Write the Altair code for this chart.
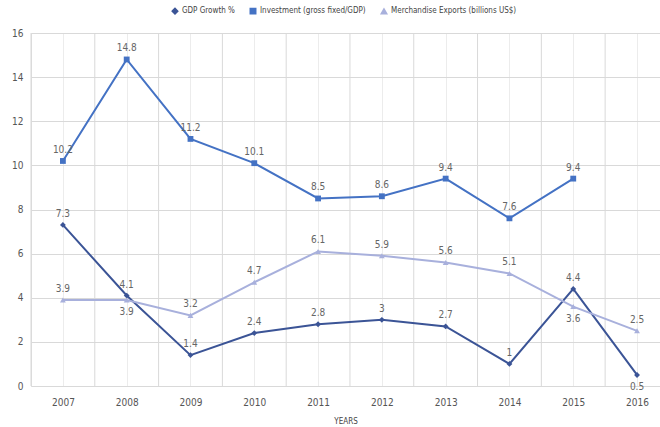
import altair as alt
import pandas as pd

years = [2007, 2008, 2009, 2010, 2011, 2012, 2013, 2014, 2015, 2016]
gdp = [7.3, 4.1, 1.4, 2.4, 2.8, 3, 2.7, 1, 4.4, 0.5]
investment = [10.2, 14.8, 11.2, 10.1, 8.5, 8.6, 9.4, 7.6, 9.4, None]
exports = [3.9, 3.9, 3.2, 4.7, 6.1, 5.9, 5.6, 5.1, 3.6, 2.5]
# label placement: 1 above, -1 below
gdp_pos = [1, 1, 1, 1, 1, 1, 1, 1, 1, -1]
inv_pos = [1] * 10
exp_pos = [1, -1, 1, 1, 1, 1, 1, 1, -1, 1]

series_names = ["GDP Growth %", "Investment (gross fixed/GDP)", "Merchandise Exports (billions US$)"]
colors = ["#3b5496", "#4472c4", "#a8b0dc"]
shapes = ["diamond", "square", "triangle-up"]

rows = []
for name, vals, pos in zip(series_names, [gdp, investment, exports], [gdp_pos, inv_pos, exp_pos]):
    for y, v, p in zip(years, vals, pos):
        if v is not None:
            rows.append({"year": y, "value": v, "series": name, "pos": p,
                         "label": f"{v:g}"})
df = pd.DataFrame(rows)

bounds = pd.DataFrame({"b": [y - 0.5 for y in years] + [years[-1] + 0.5]})

FONT = "Liberation Sans Narrow, DejaVu Sans Condensed, Roboto Condensed, sans-serif"

xscale = alt.Scale(domain=[2006.5, 2016.36], nice=False, zero=False)
yscale = alt.Scale(domain=[0, 16], nice=False)

color = alt.Color("series:N", scale=alt.Scale(domain=series_names, range=colors),
                  sort=series_names,
                  legend=alt.Legend(title=None, orient="none", direction="horizontal",
                                    legendX=140, legendY=-26, labelFontSize=8,
                                    labelFont=FONT, labelColor="#444", symbolSize=30,
                                    columnPadding=12, labelOffset=3, symbolStrokeWidth=1.5))
shape = alt.Shape("series:N", scale=alt.Scale(domain=series_names, range=shapes),
                  sort=series_names, legend=None)

grid_b = alt.Chart(bounds).mark_rule(color="#d9d9d9", strokeWidth=1).encode(
    x=alt.X("b:Q", scale=xscale)
)

base = alt.Chart(df).encode(
    x=alt.X("year:Q", scale=xscale,
            axis=alt.Axis(values=years, format="d", title="YEARS", titleFontSize=8,
                          titleFont=FONT, titleFontWeight="normal", titleColor="#444",
                          labelFont=FONT, labelFontSize=10, labelColor="#555",
                          domain=False, ticks=False, grid=True, gridColor="#ececec",
                          labelPadding=11, titlePadding=10)),
    y=alt.Y("value:Q", scale=yscale,
            axis=alt.Axis(values=list(range(0, 17, 2)), title=None, domain=False, ticks=False,
                          gridColor="#d9d9d9", labelFont=FONT, labelFontSize=10,
                          labelColor="#555", labelPadding=8)),
)

lines = base.mark_line(strokeWidth=2).encode(color=color, detail="series:N")
points = base.mark_point(filled=True, size=34, opacity=1).encode(color=color, shape=shape)

labels_up = base.transform_filter("datum.pos > 0").mark_text(
    dy=-11, fontSize=10, font=FONT, color="#666").encode(text="label:N")
labels_dn = base.transform_filter("datum.pos < 0").mark_text(
    dy=12, fontSize=10, font=FONT, color="#666").encode(text="label:N")

chart = alt.layer(grid_b, lines, points, labels_up, labels_dn).properties(
    width=629, height=353,
    autosize=alt.AutoSizeParams(type="none"),
    padding={"left": 31, "top": 33, "right": 0, "bottom": 41},
).configure_view(stroke=None).configure(background="white")

chart.save("out.html", embed_options={"renderer": "svg", "actions": False})
